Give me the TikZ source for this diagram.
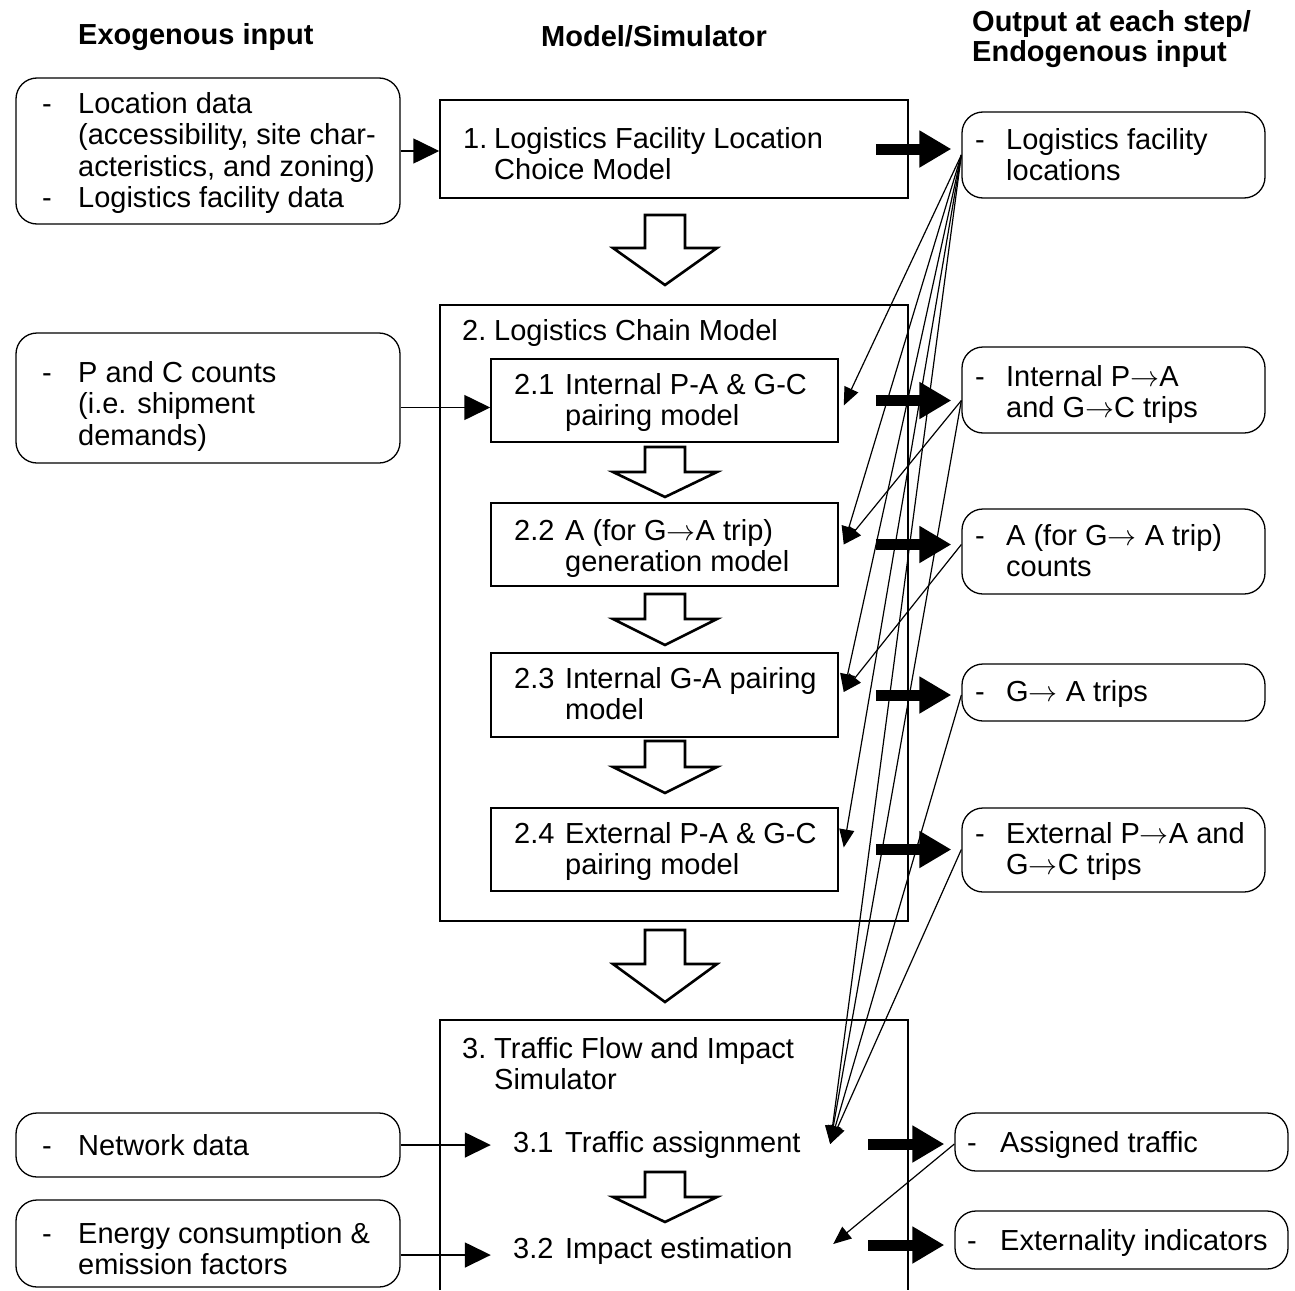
\RequirePackage{fix-cm}
\documentclass[tikz,border=0pt]{standalone}
\usepackage{fontspec}
\setmainfont{Liberation Sans}
\usetikzlibrary{arrows.meta,fit,calc}

% hollow block arrow pointing down: centre x, top y, head base y, tip y
\newcommand\blockdown[4]{%
  \draw[hollow] (#1-20,#2) -- (#1+20,#2) -- (#1+20,#3) -- (#1+52,#3)
    -- (#1,#4) -- (#1-52,#3) -- (#1-20,#3) -- cycle;}
% full-width arrow used inside labels
\newcommand\garrow{\ensuremath{\rightarrow}}

\begin{document}
\begin{tikzpicture}[x=1pt,y=-1pt,
  every node/.style={font=\fontsize{29}{31.5}\selectfont},
  frame/.style={draw, line width=1.5pt, inner sep=0pt},
  soft/.style={draw, line width=1.3pt, inner sep=0pt, rounded corners=21pt},
  hidden/.style={inner sep=0pt},
  txt/.style={inner sep=0pt, anchor=base west},
  head/.style={txt, font=\fontsize{29}{27}\selectfont\bfseries},
  feed/.style={line width=1.6pt, -{Triangle[length=26pt,width=25pt]}},
  link/.style={line width=1.2pt, -{Triangle[length=18pt,width=15pt]}},
  fat/.style={line width=11pt, -{Triangle[length=32pt,width=35pt]}},
  hollow/.style={draw, fill=white, line width=2.6pt, miter limit=10},
]
\fill[white] (0,0) rectangle (1295,1290);
\useasboundingbox (0,0) rectangle (1295,1290);

% column headings
\node[head] (h1) at (78,45) {Exogenous input};
\node[head] (h2) at (541,47) {Model/Simulator};
\node[head] (h3) at (972,32) {\begin{tabular}[t]{@{}l@{}}Output at each step/\\Endogenous input\end{tabular}};

% exogenous inputs
\node[soft, fit={(16,78) (400,224)}] (L1) {};
\node[soft, fit={(16,333) (400,463)}] (L2) {};
\node[soft, fit={(16,1113) (400,1177)}] (L3) {};
\node[soft, fit={(16,1200) (400,1287)}] (L4) {};
\node[txt] (tL1) at (42,113) {\begin{tabular}[t]{@{}p{36pt}@{}l@{}}-&Location data\\&(accessibility, site char-\\&acteristics, and zoning)\\-&Logistics facility data\end{tabular}};
\node[txt] (tL2) at (42,382) {\begin{tabular}[t]{@{}p{36pt}@{}l@{}}-&P and C counts\\&(i.e. shipment\\&demands)\end{tabular}};
\node[txt] (tL3) at (42,1155) {\begin{tabular}[t]{@{}p{36pt}@{}l@{}}-&Network data\end{tabular}};
\node[txt] (tL4) at (42,1243) {\begin{tabular}[t]{@{}p{36pt}@{}l@{}}-&Energy consumption \&\\&emission factors\end{tabular}};

% models
\node[frame, fit={(440,100) (908,198)}] (M1) {};
\node[frame, fit={(440,305) (908,921)}] (M2) {};
\node[frame, fit={(491,359) (838,442)}] (B21) {};
\node[frame, fit={(491,503) (838,586)}] (B22) {};
\node[frame, fit={(491,653) (838,737)}] (B23) {};
\node[frame, fit={(491,808) (838,891)}] (B24) {};
\node[hidden, fit={(440,1020) (908,1290)}] (M3) {};
\draw[line width=1.5pt] (M3.south west) -- (M3.north west) -- (M3.north east) -- (M3.south east);
\node[hidden, fit={(491,1124) (838,1164)}] (S31) {};
\node[hidden, fit={(491,1230) (838,1270)}] (S32) {};

\node[txt] (tM1) at (463,148) {\begin{tabular}[t]{@{}p{31pt}@{}l@{}}1.&Logistics Facility Location\\&Choice Model\end{tabular}};
\node[txt] (tM2) at (462,340) {\begin{tabular}[t]{@{}p{32pt}@{}l@{}}2.&Logistics Chain Model\end{tabular}};
\node[txt] (t21) at (514,394) {\begin{tabular}[t]{@{}p{51pt}@{}l@{}}2.1&Internal P-A \& G-C\\&pairing model\end{tabular}};
\node[txt] (t22) at (514,540) {\begin{tabular}[t]{@{}p{51pt}@{}l@{}}2.2&A (for G\garrow A trip)\\&generation model\end{tabular}};
\node[txt] (t23) at (514,688) {\begin{tabular}[t]{@{}p{51pt}@{}l@{}}2.3&Internal G-A pairing\\&model\end{tabular}};
\node[txt] (t24) at (514,843) {\begin{tabular}[t]{@{}p{51pt}@{}l@{}}2.4&External P-A \& G-C\\&pairing model\end{tabular}};
\node[txt] (tM3) at (462,1058) {\begin{tabular}[t]{@{}p{32pt}@{}l@{}}3.&Traffic Flow and Impact\\&Simulator\end{tabular}};
\node[txt] (t31) at (513,1152) {\begin{tabular}[t]{@{}p{52pt}@{}l@{}}3.1&Traffic assignment\end{tabular}};
\node[txt] (t32) at (513,1258) {\begin{tabular}[t]{@{}p{52pt}@{}l@{}}3.2&Impact estimation\end{tabular}};

% outputs
\node[soft, fit={(962,112) (1265,198)}] (R1) {};
\node[soft, fit={(962,347) (1265,433)}] (R2) {};
\node[soft, fit={(962,509) (1265,594)}] (R3) {};
\node[soft, fit={(962,664) (1265,721)}] (R4) {};
\node[soft, fit={(962,808) (1265,892)}] (R5) {};
\node[soft, fit={(955,1113) (1288,1171)}] (R6) {};
\node[soft, fit={(955,1211) (1288,1269)}] (R7) {};
\node[txt] (tR1) at (975,149) {\begin{tabular}[t]{@{}p{31pt}@{}l@{}}-&Logistics facility\\&locations\end{tabular}};
\node[txt] (tR2) at (975,386) {\begin{tabular}[t]{@{}p{31pt}@{}l@{}}-&Internal P\garrow A\\&and G\garrow C trips\end{tabular}};
\node[txt] (tR3) at (975,545) {\begin{tabular}[t]{@{}p{31pt}@{}l@{}}-&A (for G\garrow{} A trip)\\&counts\end{tabular}};
\node[txt] (tR4) at (975,701) {\begin{tabular}[t]{@{}p{31pt}@{}l@{}}-&G\garrow{} A trips\end{tabular}};
\node[txt] (tR5) at (975,843) {\begin{tabular}[t]{@{}p{31pt}@{}l@{}}-&External P\garrow A and\\&G\garrow C trips\end{tabular}};
\node[txt] (tR6) at (967,1152) {\begin{tabular}[t]{@{}p{33pt}@{}l@{}}-&Assigned traffic\end{tabular}};
\node[txt] (tR7) at (967,1250) {\begin{tabular}[t]{@{}p{33pt}@{}l@{}}-&Externality indicators\end{tabular}};

% flow between model steps
\blockdown{665}{215}{248}{285}
\blockdown{665}{447}{472}{497}
\blockdown{665}{594}{619}{645}
\blockdown{665}{741}{767}{793}
\blockdown{665}{930}{964}{1002}
\blockdown{665}{1172}{1197}{1222}

% exogenous feeds
\draw[feed] (L1.east) -- (L1.east -| M1.west);
\coordinate (e21) at ([yshift=-7pt]B21.west);
\draw[feed] (L2.east |- e21) -- (e21);
\draw[feed] (L3.east) -- (L3.east -| S31.west);
\coordinate (e32) at ([yshift=-5pt]S32.west);
\draw[feed] (L4.east |- e32) -- (e32);

% step outputs
\draw[fat, shorten >=10pt] ([xshift=-33pt]M1.east) -- (M1.east -| R1.west);
\draw[fat, shorten >=10pt] ([xshift=37pt]B21.east) -- (B21.east -| R2.west);
\draw[fat, shorten >=10pt] ([xshift=37pt]B22.east) -- (B22.east -| R3.west);
\draw[fat, shorten >=10pt] ([xshift=37pt]B23.east) -- (B23.east -| R4.west);
\draw[fat, shorten >=10pt] ([xshift=37pt]B24.east) -- (B24.east -| R5.west);
\draw[fat, shorten >=10pt] ([xshift=30pt]S31.east) -- (S31.east -| R6.west);
\coordinate (o32) at ([xshift=30pt,yshift=5pt]S32.east);
\draw[fat, shorten >=10pt] (o32) -- (o32 -| R7.west);

% endogenous inputs fed back
\coordinate (in21) at ([shift={(5,5)}]B21.east);
\coordinate (in22) at ([shift={(5,0)}]B22.east);
\coordinate (in23) at ([shift={(5,-3)}]B23.east);
\coordinate (in24) at ([shift={(5,-2)}]B24.east);
\coordinate (in31) at ([shift={(-8,0)}]S31.east);
\coordinate (in32) at ([shift={(-5,-6)}]S32.east);
\coordinate (out2) at (B21.east -| R2.west);
\coordinate (out3) at (B22.east -| R3.west);
\coordinate (out4) at (B23.east -| R4.west);
\coordinate (out5) at (B24.east -| R5.west);
\coordinate (out6) at (S31.east -| R6.west);
\foreach \t in {in21,in22,in23,in24,in31} \draw[link] (R1.west) -- (\t);
\draw[link] (out2) -- (in22);
\draw[link] (out2) -- (in31);
\draw[link] (out3) -- (in23);
\draw[link] (out4) -- (in31);
\draw[link] (out5) -- (in31);
\draw[link] (out6) -- (in32);
\end{tikzpicture}
\end{document}
